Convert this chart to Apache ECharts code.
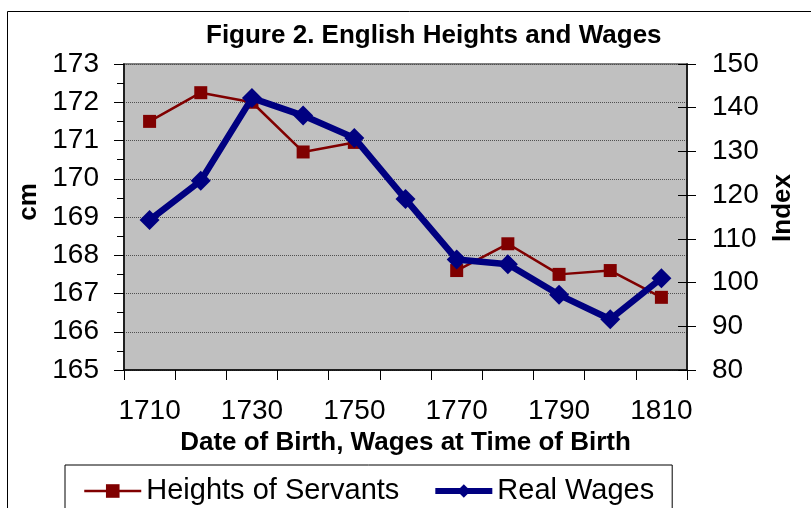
<!DOCTYPE html>
<html>
<head>
<meta charset="utf-8">
<title>English Heights and Wages</title>
<script src="https://cdn.jsdelivr.net/npm/echarts@6/dist/echarts.min.js"></script>
<style>
  html, body { margin: 0; padding: 0; background: #fff; }
</style>
</head>
<body>
<div id="main" style="width: 811px; height: 508px;"></div>
<script type="text/javascript">
// data (no height value for 1760)
var years = ['1710', '1720', '1730', '1740', '1750', '1760', '1770', '1780', '1790', '1800', '1810'];
var heights = [171.5, 172.25, 172.0, 170.7, 170.95, null, 167.6, 168.3, 167.5, 167.6, 166.9];
var wages = [114.3, 123.3, 142.2, 138.2, 133.1, 119.1, 105.3, 104.2, 97.2, 91.6, 101.0];

var FONT = 'Liberation Sans, Arial, sans-serif';

var myChart = echarts.init(document.getElementById('main'));

var option = {
  animation: false,
  backgroundColor: '#fff',
  title: {
    text: 'Figure 2. English Heights and Wages',
    left: 206,
    top: 23,
    padding: 0,
    textStyle: { fontFamily: FONT, fontSize: 26, fontWeight: 'bold', color: '#000' }
  },
  // outer chart frame (only the top and left edges show)
  graphic: [{
    type: 'rect',
    shape: { x: 7.5, y: 11.5, width: 900, height: 600 },
    style: { fill: null, stroke: '#000', lineWidth: 1 },
    silent: true
  }],
  legend: {
    left: 65,
    top: 465,
    padding: [10, 18, 20, 18],
    itemGap: 33,
    itemWidth: 57,
    itemHeight: 17,
    borderColor: '#000',
    borderWidth: 1,
    backgroundColor: '#fff',
    textStyle: { fontFamily: FONT, fontSize: 29, color: '#000', lineHeight: 32 },
    data: [
      { name: 'Heights of Servants', lineStyle: { width: 2.5 } },
      { name: 'Real Wages', lineStyle: { width: 6 } }
    ]
  },
  grid: {
    left: 124,
    right: 124,
    top: 64,
    bottom: 138,
    show: true,
    backgroundColor: '#c0c0c0',
    borderColor: '#808080',
    borderWidth: 2
  },
  xAxis: {
    type: 'category',
    data: years,
    boundaryGap: true,
    name: 'Date of Birth, Wages at Time of Birth',
    nameLocation: 'middle',
    nameGap: 58,
    nameTextStyle: { fontFamily: FONT, fontSize: 26, fontWeight: 'bold', color: '#000' },
    axisLine: { lineStyle: { color: '#000', width: 1.5 } },
    axisTick: { show: true, interval: 0, length: 10, lineStyle: { color: '#000' } },
    axisLabel: { interval: 1, margin: 27, fontFamily: FONT, fontSize: 28, color: '#000' },
    splitLine: { show: false }
  },
  yAxis: [{
    type: 'value',
    position: 'left',
    min: 165,
    max: 173,
    interval: 1,
    name: 'cm',
    nameLocation: 'middle',
    nameGap: 78,
    nameTextStyle: { fontFamily: FONT, fontSize: 26, fontWeight: 'bold', color: '#000', padding: [0, 0, 0, 30] },
    axisLine: { show: true, lineStyle: { color: '#000', width: 1.5 } },
    axisTick: { show: true, length: 10, lineStyle: { color: '#000' } },
    minorTick: { show: true, splitNumber: 2, length: 7, lineStyle: { color: '#000' } },
    axisLabel: { margin: 25, fontFamily: FONT, fontSize: 28, color: '#000' },
    splitLine: { show: true, lineStyle: { color: '#505050', type: 'dotted', width: 1 } }
  }, {
    type: 'value',
    position: 'right',
    min: 80,
    max: 150,
    interval: 10,
    name: 'Index',
    nameLocation: 'middle',
    nameGap: 78,
    nameTextStyle: { fontFamily: FONT, fontSize: 26, fontWeight: 'bold', color: '#000', padding: [0, 0, 0, 18] },
    axisLine: { show: true, lineStyle: { color: '#000', width: 1.5 } },
    axisTick: { show: true, length: 9, lineStyle: { color: '#000' } },
    axisLabel: { margin: 25, fontFamily: FONT, fontSize: 28, color: '#000' },
    splitLine: { show: false }
  }, {
    // same scale again, only to draw the inner half of the crossing ticks
    type: 'value',
    position: 'right',
    min: 80,
    max: 150,
    interval: 10,
    axisLine: { show: false },
    axisTick: { show: true, inside: true, length: 9, lineStyle: { color: '#000' } },
    axisLabel: { show: false },
    splitLine: { show: false }
  }],
  series: [{
    name: 'Heights of Servants',
    type: 'line',
    yAxisIndex: 0,
    data: heights,
    connectNulls: false,
    symbol: 'rect',
    symbolSize: 13,
    color: '#800000',
    lineStyle: { color: '#800000', width: 2.5 },
    itemStyle: { color: '#800000' },
    z: 2
  }, {
    name: 'Real Wages',
    type: 'line',
    yAxisIndex: 1,
    data: wages,
    symbol: 'diamond',
    symbolSize: 20,
    color: '#000080',
    lineStyle: { color: '#000080', width: 6.5 },
    itemStyle: { color: '#000080' },
    z: 3
  }]
};

myChart.setOption(option);
</script>
</body>
</html>
